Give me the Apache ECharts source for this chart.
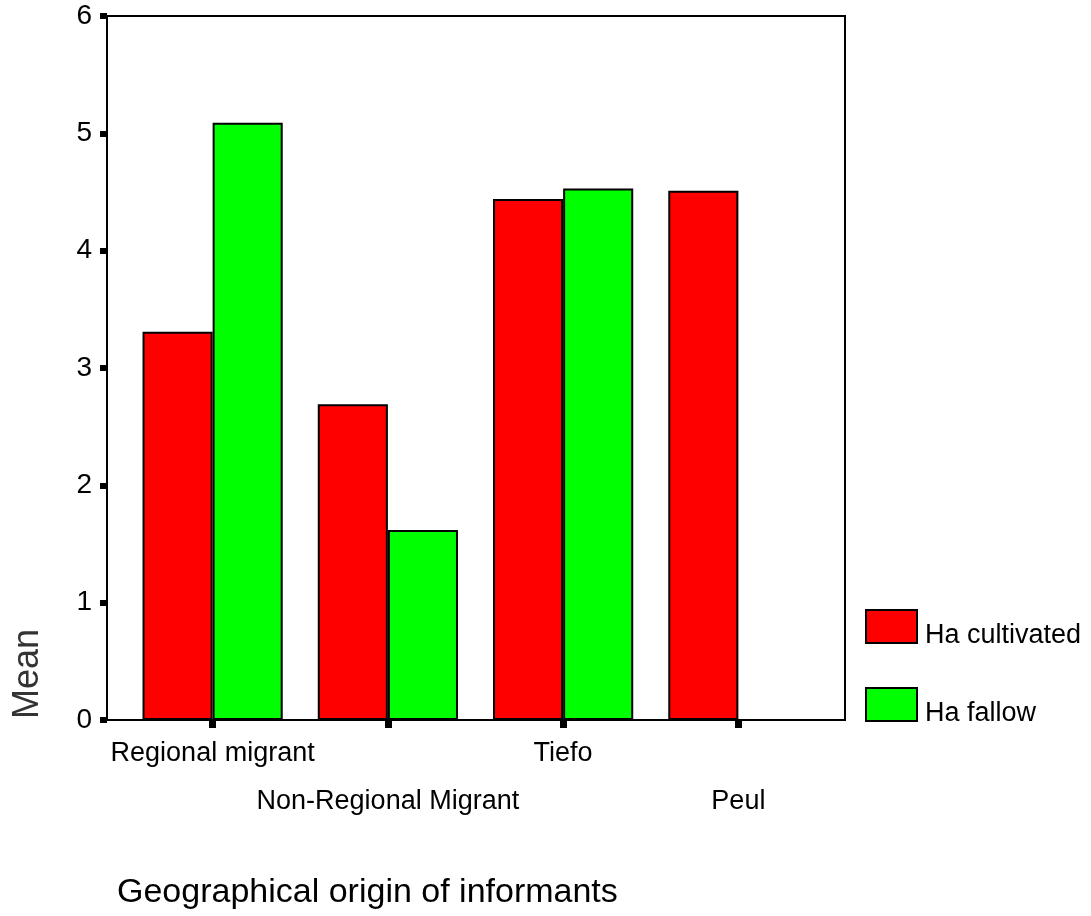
<!DOCTYPE html>
<html>
<head>
<meta charset="utf-8">
<script src="https://cdn.jsdelivr.net/npm/echarts@6/dist/echarts.min.js"></script>
<style>
  html, body { margin: 0; padding: 0; background: #fff; }
  #chart { width: 1091px; height: 916px; }
</style>
</head>
<body>
<div id="chart"></div>
<script>
// Mean hectares by geographical origin of informants
const categories = ['Regional migrant', 'Non-Regional Migrant', 'Tiefo', 'Peul'];
const haCultivated = [3.31, 2.69, 4.44, 4.51];
const haFallow = [5.09, 1.62, 4.53, 0];
const yTicks = [0, 1, 2, 3, 4, 5, 6];

const FONT = '"Liberation Sans", Arial, sans-serif';
const BLACK = '#000';

const chart = echarts.init(document.getElementById('chart'), null, { renderer: 'canvas' });

const barStyle = (color) => ({ color: color, borderColor: BLACK, borderWidth: 2 });

chart.setOption({
  backgroundColor: '#fff',
  animation: false,
  textStyle: { fontFamily: FONT },
  title: {
    text: 'Geographical origin of informants',
    left: 117,
    top: 876,
    padding: 0,
    textStyle: { fontFamily: FONT, fontSize: 34, fontWeight: 'normal', color: BLACK }
  },
  legend: {
    orient: 'vertical',
    left: 865,
    top: 609,
    padding: 0,
    itemWidth: 51,
    itemHeight: 33,
    itemGap: 38,
    icon: 'rect',
    itemStyle: { borderColor: BLACK, borderWidth: 2 },
    formatter: (name) => '{t|' + name + '}',
    textStyle: {
      fontFamily: FONT, fontSize: 27, color: BLACK,
      rich: { t: { fontFamily: FONT, fontSize: 27, color: BLACK, padding: [18, 0, 0, 3] } }
    },
    data: ['Ha cultivated', 'Ha fallow']
  },
  graphic: [{
    type: 'text',
    left: 10,
    top: 629,
    rotation: Math.PI / 2,
    style: { text: 'Mean', fontFamily: FONT, fontSize: 36, fill: '#333' }
  }],
  grid: [
    // frame with the value axis
    { left: 107, top: 16, right: 246, bottom: 196, show: true, borderColor: BLACK, borderWidth: 2, backgroundColor: 'transparent' },
    // bar area, inset inside the frame
    { left: 125, top: 16, right: 265, bottom: 196 }
  ],
  xAxis: [
    { gridIndex: 0, type: 'value', min: 0, max: 1, show: false },
    {
      gridIndex: 1,
      type: 'category',
      data: categories,
      boundaryGap: true,
      axisLine: { show: false },
      axisTick: { show: true, alignWithLabel: true, length: 8, lineStyle: { color: BLACK, width: 7 } },
      axisLabel: {
        interval: 0,
        margin: 10,
        fontFamily: FONT,
        fontSize: 27,
        color: BLACK,
        lineHeight: 48,
        formatter: (v, i) => (i % 2 ? '\n' + v : v)
      }
    }
  ],
  yAxis: [
    {
      gridIndex: 0,
      type: 'value',
      min: yTicks[0],
      max: yTicks[yTicks.length - 1],
      interval: 1,
      splitLine: { show: false },
      axisLine: { show: true, lineStyle: { color: BLACK, width: 2 } },
      axisTick: { show: true, length: 7, lineStyle: { color: BLACK, width: 6 } },
      axisLabel: { margin: 15, fontFamily: FONT, fontSize: 28, color: BLACK }
    },
    { gridIndex: 1, type: 'value', min: 0, max: 6, show: false }
  ],
  series: [
    {
      name: 'Ha cultivated',
      type: 'bar',
      xAxisIndex: 1,
      yAxisIndex: 1,
      data: haCultivated,
      barGap: '0%',
      barCategoryGap: '20%',
      itemStyle: barStyle('#ff0000')
    },
    {
      name: 'Ha fallow',
      type: 'bar',
      xAxisIndex: 1,
      yAxisIndex: 1,
      data: haFallow,
      barGap: '0%',
      barCategoryGap: '20%',
      itemStyle: barStyle('#00ff00')
    }
  ]
});
</script>
</body>
</html>
